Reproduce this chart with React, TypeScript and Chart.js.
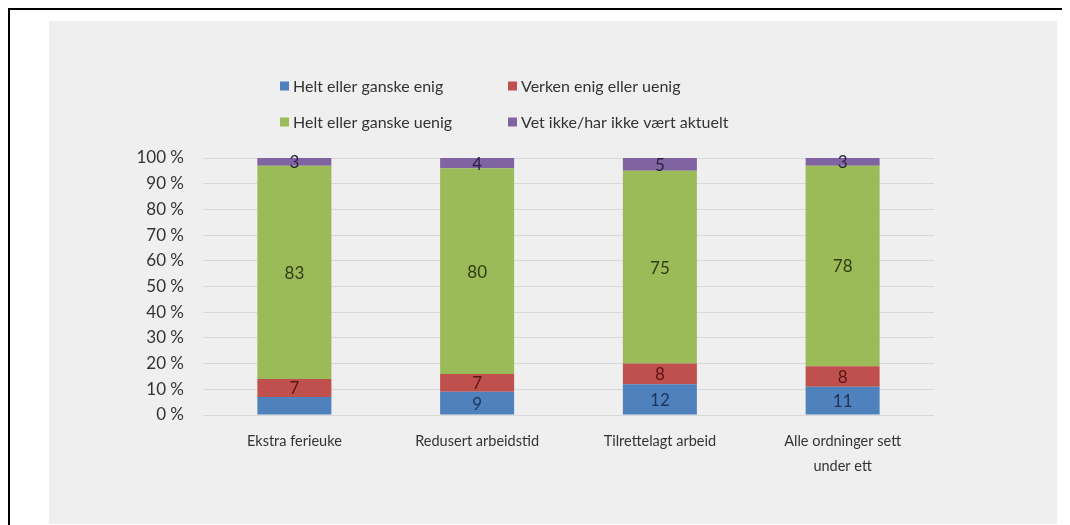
import React, { useEffect, useRef } from "react";
import { Chart, registerables } from "chart.js";

Chart.register(...registerables);

const categories: string[][] = [
  ["Ekstra ferieuke"],
  ["Redusert arbeidstid"],
  ["Tilrettelagt arbeid"],
  ["Alle ordninger sett", "under ett"],
];
const seriesNames = [
  "Helt eller ganske enig",
  "Verken enig eller uenig",
  "Helt eller ganske uenig",
  "Vet ikke/har ikke vært aktuelt",
];
const enig = [7, 9, 12, 11];
const verken = [7, 7, 8, 8];
const uenig = [83, 80, 75, 78];
const vetIkke = [3, 4, 5, 3];
const yTickValues = [0, 10, 20, 30, 40, 50, 60, 70, 80, 90, 100];
const hiddenLabels = [{ series: 0, index: 0 }];

const FONT = "Lato, 'Open Sans', sans-serif";
const barColors = ["#4F81BD", "#C0504D", "#9BBB59", "#8064A2"];
const labelColors = ["#1F3458", "#5A1614", "#2E3D12", "#2A2040"];

const valueLabelPlugin = {
  id: "valueLabels",
  afterDatasetsDraw(chart: any) {
    const ctx = chart.ctx;
    ctx.save();
    ctx.font = `17px ${FONT}`;
    ctx.textAlign = "center";
    ctx.textBaseline = "middle";
    chart.data.datasets.forEach((ds: any, di: number) => {
      const meta = chart.getDatasetMeta(di);
      meta.data.forEach((el: any, i: number) => {
        if (hiddenLabels.some((h) => h.series === di && h.index === i)) return;
        const cy = (el.y + el.base) / 2;
        ctx.fillStyle = labelColors[di];
        ctx.fillText(String(ds.data[i]), el.x, cy + 1);
      });
    });
    ctx.restore();
  },
};

const gridLegendPlugin = {
  id: "gridLegend",
  afterDraw(chart: any) {
    const ctx = chart.ctx;
    ctx.save();
    ctx.font = `16px ${FONT}`;
    ctx.textBaseline = "middle";
    ctx.textAlign = "left";
    const colX = [231, 459];
    const rowY = [65, 101];
    seriesNames.forEach((name, i) => {
      const x = colX[i % 2];
      const y = rowY[Math.floor(i / 2)];
      ctx.fillStyle = barColors[i];
      ctx.fillRect(x, y - 4.5, 9, 9);
      ctx.fillStyle = "#333333";
      ctx.fillText(name, x + 13, y + 1);
    });
    ctx.restore();
  },
};

export default function App() {
  const canvasRef = useRef<HTMLCanvasElement>(null);

  useEffect(() => {
    if (!canvasRef.current) return;
    const series = [enig, verken, uenig, vetIkke];
    const chart = new Chart(canvasRef.current, {
      type: "bar",
      data: {
        labels: categories,
        datasets: series.map((d, i) => ({
          label: seriesNames[i],
          data: d,
          backgroundColor: barColors[i],
          borderWidth: 0,
          categoryPercentage: 1,
          barPercentage: 0.405,
        })),
      },
      options: {
        animation: false,
        responsive: false,
        maintainAspectRatio: false,
        layout: { padding: { top: 137, right: 123, bottom: 0, left: 0 } },
        plugins: {
          legend: { display: false },
          tooltip: { enabled: false },
        },
        scales: {
          x: {
            stacked: true,
            grid: { display: false, drawTicks: false },
            border: { display: false },
            ticks: {
              padding: 14,
              color: "#333333",
              font: { family: FONT, size: 14.5, lineHeight: 1.724 },
              maxRotation: 0,
              autoSkip: false,
            },
            afterFit: (s: any) => {
              s.height = 109;
            },
          },
          y: {
            stacked: true,
            min: 0,
            max: 100,
            afterBuildTicks: (s: any) => {
              s.ticks = yTickValues.map((v) => ({ value: v }));
            },
            grid: { color: "#d9d9d9", lineWidth: 1, drawTicks: false },
            border: { display: false },
            ticks: {
              padding: 19,
              color: "#333333",
              font: { family: FONT, size: 17 },
              callback: (v: any) => `${v} %`,
            },
            afterFit: (s: any) => {
              s.width = 154;
            },
          },
        },
      },
      plugins: [valueLabelPlugin, gridLegendPlugin],
    });
    return () => chart.destroy();
  }, []);

  return (
    <div
      style={{
        width: 1062,
        height: 517,
        borderTop: "2px solid #000",
        borderLeft: "2px solid #000",
        boxSizing: "border-box",
        position: "relative",
        background: "#fff",
        overflow: "hidden",
      }}
    >
      <div
        style={{
          position: "absolute",
          left: 39,
          top: 11,
          width: 1008,
          height: 503,
          background: "#efefef",
        }}
      >
        <canvas ref={canvasRef} width={1008} height={503} style={{ display: "block" }} />
      </div>
    </div>
  );
}
